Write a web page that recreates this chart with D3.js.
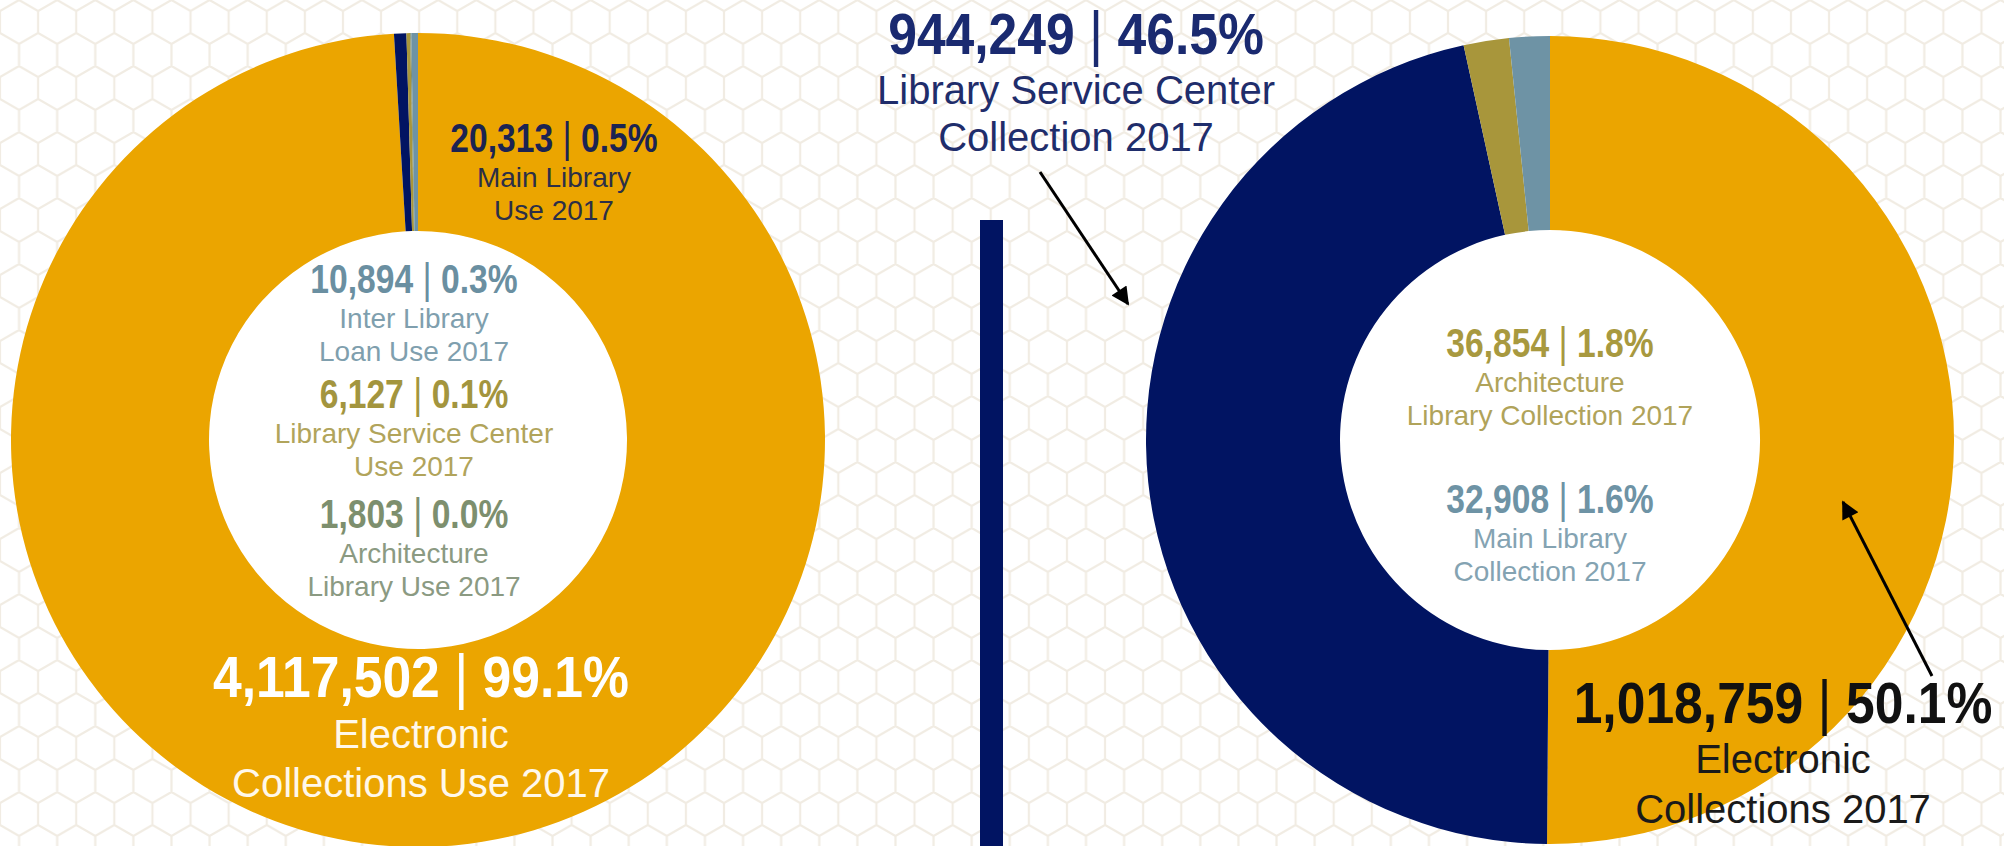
<!DOCTYPE html>
<html>
<head>
<meta charset="utf-8">
<script src="https://cdn.jsdelivr.net/npm/d3@7"></script>
<style>
  html, body { margin: 0; padding: 0; background: #fff; }
  svg { display: block; }
</style>
</head>
<body>
<div id="chart"></div>
<script>
// usage 2017 (left ring)
const useKeys = ["electronic", "main", "lsc", "arch", "ill"];
const useValues = [4117502, 20313, 6127, 1803, 10894];
const useLabels = [
  ["Electronic", "Collections Use 2017"],
  ["Main Library", "Use 2017"],
  ["Library Service Center", "Use 2017"],
  ["Architecture", "Library Use 2017"],
  ["Inter Library", "Loan Use 2017"]
];

// collection 2017 (right ring)
const colKeys = ["electronic", "lsc", "arch", "main"];
const colValues = [1018759, 944249, 36854, 32908];
const colLabels = [
  ["Electronic", "Collections 2017"],
  ["Library Service Center", "Collection 2017"],
  ["Architecture", "Library Collection 2017"],
  ["Main Library", "Collection 2017"]
];

const width = 2004;
const height = 846;
const orange = "#eba500", navy = "#011462", gold = "#a8963b", steel = "#6e93a5", sage = "#7e8f6f";

const svg = d3.select("#chart")
  .append("svg")
  .attr("width", width)
  .attr("height", height)
  .attr("font-family", "'Liberation Sans', Arial, Helvetica, sans-serif");

// faint honeycomb background
const s = 22, hw = Math.sqrt(3) * s;
const defs = svg.append("defs");
defs.append("pattern")
  .attr("id", "hex")
  .attr("patternUnits", "userSpaceOnUse")
  .attr("width", hw)
  .attr("height", 3 * s)
  .append("path")
  .attr("fill", "none")
  .attr("stroke", "#f1ece3")
  .attr("stroke-width", 2.2)
  .attr("d", `M0,${s / 2}L${hw / 2},0L${hw},${s / 2}L${hw},${1.5 * s}L${hw / 2},${2 * s}L0,${1.5 * s}Z M${hw / 2},${2 * s}L${hw / 2},${3 * s}`);
defs.append("marker")
  .attr("id", "head")
  .attr("viewBox", "0 0 10 10")
  .attr("refX", 9).attr("refY", 5)
  .attr("markerWidth", 7).attr("markerHeight", 6)
  .attr("markerUnits", "strokeWidth")
  .attr("orient", "auto")
  .append("path")
  .attr("d", "M0,0L10,5L0,10Z")
  .attr("fill", "#000");

svg.append("rect").attr("width", width).attr("height", height).attr("fill", "#fff");
svg.append("rect").attr("width", width).attr("height", height).attr("fill", "url(#hex)");

const pie = d3.pie().sort(null).value(d => d.value);
const fmt = d3.format(",");
const pct = d3.format(".1%");

const draw_ring = function(cx, cy, rOuter, rInner, keys, values, colors) {
  const data = keys.map((k, i) => ({key: k, value: values[i]}));
  const arc = d3.arc().innerRadius(rInner).outerRadius(rOuter);
  const g = svg.append("g").attr("transform", `translate(${cx},${cy})`);
  g.append("circle").attr("r", rInner).attr("fill", "#fff");
  g.selectAll("path")
    .data(pie(data))
    .join("path")
    .attr("fill", d => colors[d.data.key])
    .attr("d", arc);
  const total = d3.sum(values);
  return data.map(d => ({...d, share: d.value / total}));
};

// number line "value | share" + label lines
const label = function(d, lines, o) {
  const g = svg.append("g").attr("text-anchor", "middle");
  const t = g.append("text")
    .attr("transform", `translate(${o.x},${o.y}) scale(${o.sx},1)`)
    .attr("font-size", o.size)
    .attr("font-weight", "bold")
    .attr("fill", o.numColor);
  t.append("tspan").text(fmt(d.value) + " ");
  t.append("tspan").attr("font-weight", "normal").attr("font-size", o.size * 1.05).text("|");
  t.append("tspan").text(" " + pct(d.share));
  g.selectAll("text.line")
    .data(lines)
    .join("text")
    .attr("class", "line")
    .attr("x", o.x)
    .attr("y", (l, i) => o.y + o.gap + i * o.lineGap)
    .attr("font-size", o.lsize)
    .attr("fill", o.labColor)
    .text(l => l);
};

const left = draw_ring(418, 440, 407, 209, useKeys, useValues,
  {electronic: orange, main: navy, lsc: gold, arch: sage, ill: steel});
const right = draw_ring(1550, 440, 404, 210, colKeys, colValues,
  {electronic: orange, lsc: navy, arch: gold, main: steel});

const small = {size: 41, sx: 0.82, lsize: 28, gap: 35, lineGap: 33};
const big = {size: 58, sx: 0.89, lsize: 40, gap: 51, lineGap: 49};

label(left[0], useLabels[0], {...big, x: 421, y: 697, numColor: "#ffffff", labColor: "#fff8ea"});
label(left[1], useLabels[1], {...small, x: 554, y: 152, numColor: "#1b2352", labColor: "#2c2f47"});
label(left[4], useLabels[4], {...small, x: 414, y: 293, numColor: "#6a8fa1", labColor: "#7f9fae"});
label(left[2], useLabels[2], {...small, x: 414, y: 408, numColor: "#a3953e", labColor: "#b1a45b"});
label(left[3], useLabels[3], {...small, x: 414, y: 528, numColor: "#7d8f6e", labColor: "#8b9a82"});

label(right[1], colLabels[1], {...big, x: 1076, y: 54, numColor: "#1a2a70", labColor: "#1f2d6b", gap: 50, lineGap: 47});
label(right[0], colLabels[0], {...big, x: 1783, y: 723, numColor: "#111111", labColor: "#1a1a1a", gap: 50, lineGap: 50});
label(right[2], colLabels[2], {...small, x: 1550, y: 357, numColor: "#a8993f", labColor: "#b0a35a"});
label(right[3], colLabels[3], {...small, x: 1550, y: 513, numColor: "#6e93a5", labColor: "#84a3b2"});

// divider bar
svg.append("rect")
  .attr("x", 980).attr("y", 220)
  .attr("width", 23).attr("height", height - 220)
  .attr("fill", navy);

// pointer arrows
const arrows = [[[1040, 172], [1128, 304]], [[1932, 676], [1843, 502]]];
svg.selectAll("line.arrow")
  .data(arrows)
  .join("line")
  .attr("class", "arrow")
  .attr("x1", d => d[0][0]).attr("y1", d => d[0][1])
  .attr("x2", d => d[1][0]).attr("y2", d => d[1][1])
  .attr("stroke", "#000")
  .attr("stroke-width", 3)
  .attr("marker-end", "url(#head)");
</script>
</body>
</html>
